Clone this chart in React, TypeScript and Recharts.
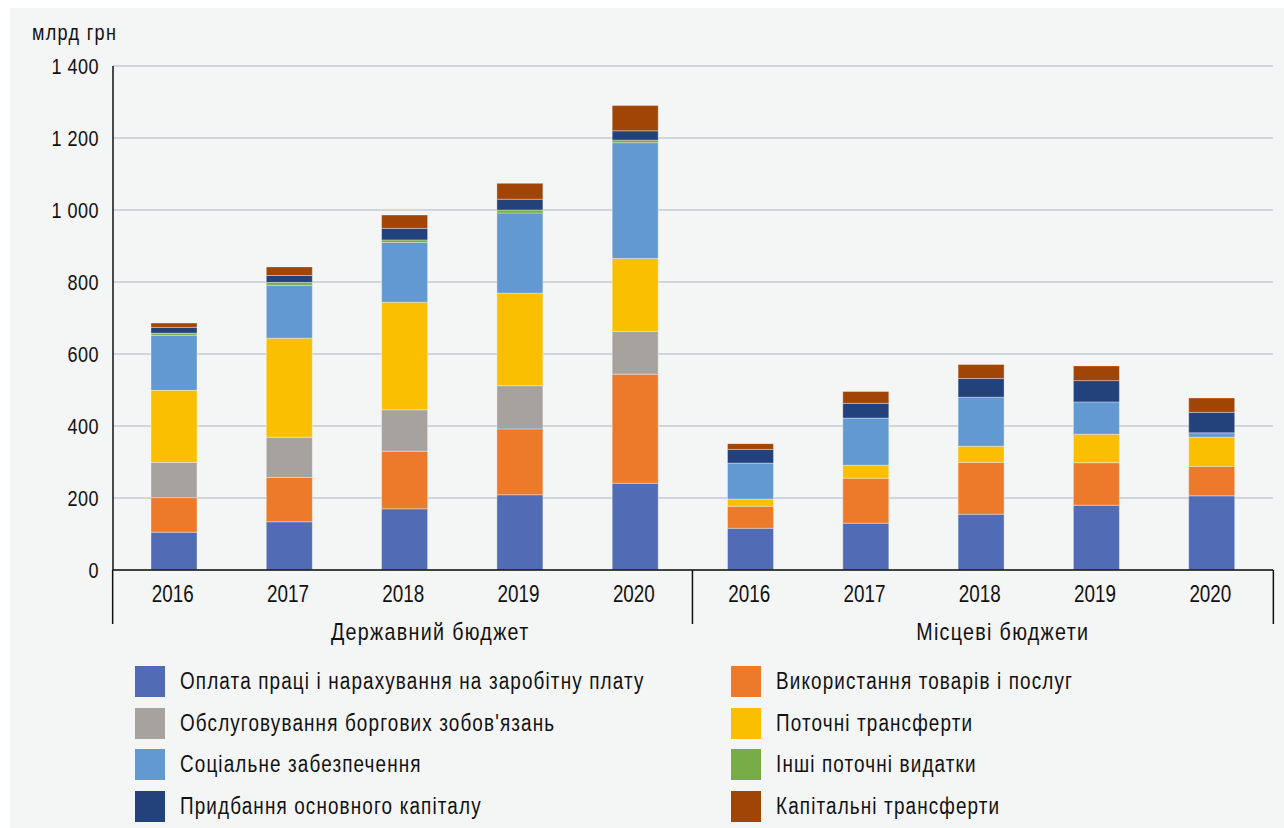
import { BarChart, Bar, XAxis, YAxis, CartesianGrid } from 'recharts'

const FONT = '"Liberation Sans", Arial, sans-serif'
// Liberation Sans squeezed horizontally reads like Arial Narrow
const SQUEEZE = 0.82

const years = ['2016', '2017', '2018', '2019', '2020', '2016', '2017', '2018', '2019', '2020']
const groups = ['Державний бюджет', 'Місцеві бюджети']
const yTicks = [0, 200, 400, 600, 800, 1000, 1200, 1400]

// млрд грн, перші п'ять значень — держбюджет, решта — місцеві бюджети
const wages = [105, 134, 170, 209, 241, 116, 130, 155, 180, 206]
const goods = [96, 123, 160, 183, 303, 61, 125, 144, 118, 82]
const debt = [98, 112, 115, 120, 119, 0, 0, 0, 0, 0]
const currentTransfers = [200, 275, 299, 257, 202, 20, 36, 45, 79, 81]
const social = [153, 147, 166, 223, 322, 100, 131, 136, 90, 12]
const otherCurrent = [6, 8, 7, 8, 7, 0, 0, 0, 0, 0]
const fixedCapital = [16, 19, 32, 30, 26, 38, 41, 52, 59, 57]
const capitalTransfers = [12, 24, 37, 44, 70, 16, 33, 39, 41, 40]

const series = [
  { key: 'wages', name: 'Оплата праці і нарахування на заробітну плату', color: '#516bb4', values: wages },
  { key: 'goods', name: 'Використання товарів і послуг', color: '#ec7a2a', values: goods },
  { key: 'debt', name: "Обслуговування боргових зобов'язань", color: '#a6a39f', values: debt },
  { key: 'currentTransfers', name: 'Поточні трансферти', color: '#fabf00', values: currentTransfers },
  { key: 'social', name: 'Соціальне забезпечення', color: '#6399d1', values: social },
  { key: 'otherCurrent', name: 'Інші поточні видатки', color: '#77ac46', values: otherCurrent },
  { key: 'fixedCapital', name: 'Придбання основного капіталу', color: '#23417a', values: fixedCapital },
  { key: 'capitalTransfers', name: 'Капітальні трансферти', color: '#a04506', values: capitalTransfers },
]

// legend goes row by row: left column, then right column
const legendOrder = ['wages', 'goods', 'debt', 'currentTransfers', 'social', 'otherCurrent', 'fixedCapital', 'capitalTransfers']

const data = years.map((year, i) => {
  const row: Record<string, string | number> = { id: `${i}`, year }
  series.forEach((s) => {
    row[s.key] = s.values[i]
  })
  return row
})

const fmtThousands = (v: number) =>
  v >= 1000 ? `${Math.floor(v / 1000)} ${String(v % 1000).padStart(3, '0')}` : `${v}`

function NarrowText({ x, y, anchor, size, spacing = 0, children }: any) {
  return (
    <g transform={`translate(${x},${y}) scale(${SQUEEZE},1)`}>
      <text x={0} y={0} textAnchor={anchor} fontSize={size} letterSpacing={spacing} fill="#111" fontFamily={FONT}>
        {children}
      </text>
    </g>
  )
}

function ValueTick(props: any) {
  const { x, y, payload } = props
  return (
    <NarrowText x={x} y={y + 8} anchor="end" size={22} spacing={0.6}>
      {fmtThousands(payload.value)}
    </NarrowText>
  )
}

function YearTick(props: any) {
  const { x, y, payload, index } = props
  const i = index ?? payload?.index ?? 0
  const lineProps = { stroke: '#111', strokeWidth: 1.5 }
  return (
    <g>
      <NarrowText x={x - 1} y={y + 32} anchor="middle" size={23}>
        {years[i]}
      </NarrowText>
      {i === 0 && <line x1={x - 61} x2={x - 61} y1={y} y2={y + 54} {...lineProps} />}
      {i === 4 && <line x1={x + 57.6} x2={x + 57.6} y1={y} y2={y + 54} {...lineProps} />}
      {i === 9 && <line x1={x + 62} x2={x + 62} y1={y} y2={y + 54} {...lineProps} />}
      {i === 2 && (
        <NarrowText x={x + 26} y={y + 70} anchor="middle" size={24} spacing={1.6}>
          {groups[0]}
        </NarrowText>
      )}
      {i === 7 && (
        <NarrowText x={x + 22} y={y + 70} anchor="middle" size={24} spacing={1.6}>
          {groups[1]}
        </NarrowText>
      )}
    </g>
  )
}

export default function App() {
  const legendItems = legendOrder.map((k) => series.find((s) => s.key === k)!)
  return (
    <div style={{ position: 'absolute', left: 0, top: 0, width: 1284, height: 828, background: '#fff' }}>
      <div style={{ position: 'absolute', left: 10, top: 8, right: 0, bottom: 0, background: '#f4f5f5' }} />
      <div
        style={{
          position: 'absolute',
          left: 32,
          top: 20,
          fontSize: 22,
          fontFamily: FONT,
          color: '#111',
          transform: `scaleX(${SQUEEZE})`,
          transformOrigin: 'left center',
          whiteSpace: 'nowrap',
          letterSpacing: 1.6,
        }}
      >
        млрд грн
      </div>
      <div style={{ position: 'absolute', left: 0, top: 0 }}>
        <BarChart
          width={1284}
          height={828}
          data={data}
          margin={{ top: 66, right: 11, bottom: 198, left: 13 }}
          barSize={46}
        >
          <CartesianGrid vertical={false} stroke="#c4cbd1" strokeWidth={1.5} />
          <XAxis
            dataKey="id"
            interval={0}
            height={60}
            padding={{ left: 3, right: 4 }}
            tickLine={false}
            tickSize={0}
            tickMargin={0}
            axisLine={{ stroke: '#111', strokeWidth: 1.5 }}
            tick={<YearTick />}
          />
          <YAxis
            width={100}
            domain={[0, 1400]}
            ticks={yTicks}
            interval={0}
            tickLine={false}
            tickSize={0}
            tickMargin={14}
            axisLine={{ stroke: '#111', strokeWidth: 1.5 }}
            tick={<ValueTick />}
          />
          {series.map((s) => (
            <Bar
              key={s.key}
              dataKey={s.key}
              name={s.name}
              stackId="total"
              fill={s.color}
              stroke="rgba(255,255,255,0.35)"
              strokeWidth={1}
              isAnimationActive={false}
            />
          ))}
        </BarChart>
      </div>
      <div
        style={{
          position: 'absolute',
          left: 135,
          top: 666,
          display: 'grid',
          gridTemplateColumns: '596px 500px',
          rowGap: 10.7,
          fontFamily: FONT,
          fontSize: 23,
          color: '#111',
        }}
      >
        {legendItems.map((s) => (
          <div key={s.key} style={{ display: 'flex', alignItems: 'center', height: 31 }}>
            <span style={{ width: 30, height: 31, background: s.color, marginRight: 15, flex: 'none' }} />
            <span
              style={{
                display: 'inline-block',
                whiteSpace: 'nowrap',
                letterSpacing: 1.4,
                transform: `scaleX(${SQUEEZE})`,
                transformOrigin: 'left center',
              }}
            >
              {s.name}
            </span>
          </div>
        ))}
      </div>
    </div>
  )
}
